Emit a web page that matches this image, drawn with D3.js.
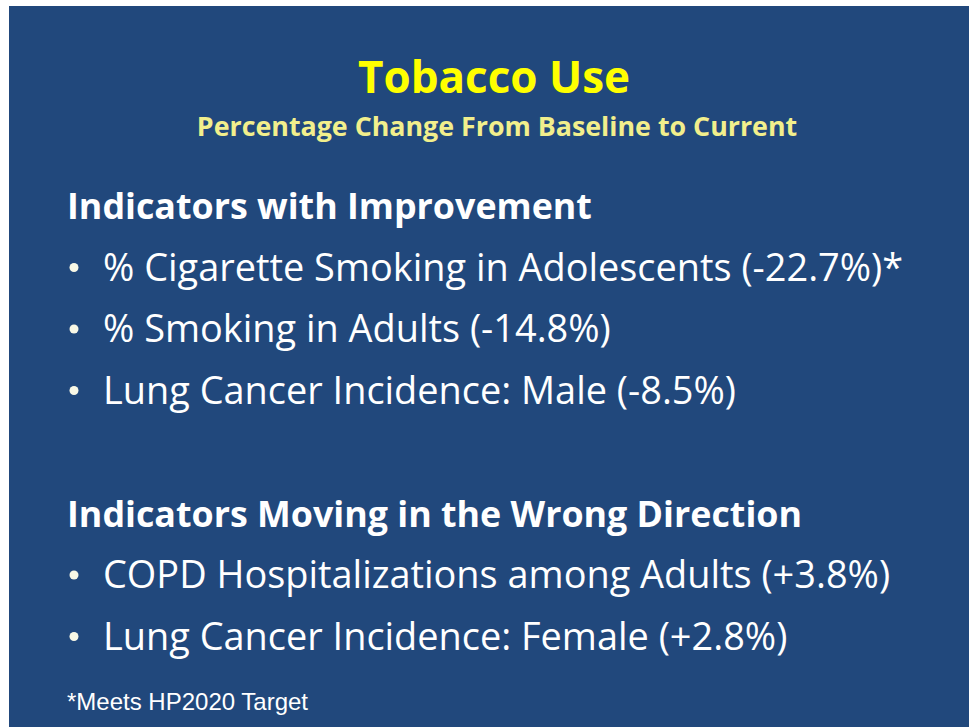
<!DOCTYPE html>
<html>
<head>
<meta charset="utf-8">
<script src="https://cdn.jsdelivr.net/npm/d3@7"></script>
<style>
  html, body { margin: 0; padding: 0; background: #fff; }
  svg { display: block; }
</style>
</head>
<body>
<svg id="slide" width="969" height="727"></svg>
<script>
// slide text / values
var title = "Tobacco Use";
var subtitle = "Percentage Change From Baseline to Current";
var sectionTitles = ["Indicators with Improvement", "Indicators Moving in the Wrong Direction"];
var improvedLabels = ["% Cigarette Smoking in Adolescents", "% Smoking in Adults", "Lung Cancer Incidence: Male"];
var improvedChange = [-22.7, -14.8, -8.5];
var improvedMeetsTarget = [true, false, false];
var worseLabels = ["COPD Hospitalizations among Adults", "Lung Cancer Incidence: Female"];
var worseChange = [3.8, 2.8];
var footnote = "*Meets HP2020 Target";

var svg = d3.select("#slide"),
    width = +svg.attr("width"),
    height = +svg.attr("height");

// plain hyphen for negatives, like the slide
var fmt = d3.formatLocale({decimal: ".", thousands: ",", grouping: [3], currency: ["", ""], minus: "-"}).format("+.1f");
var font = "'Open Sans', sans-serif";

// build rows: heading, items, gap, heading, items
var rows = [];
rows.push({type: "head", text: sectionTitles[0]});
improvedLabels.forEach(function(l, i) {
  rows.push({type: "item", text: l + " (" + fmt(improvedChange[i]) + "%)" + (improvedMeetsTarget[i] ? "*" : "")});
});
rows.push({type: "gap", text: ""});
rows.push({type: "head", text: sectionTitles[1]});
worseLabels.forEach(function(l, i) {
  rows.push({type: "item", text: l + " (" + fmt(worseChange[i]) + "%)"});
});

var y = d3.scalePoint()
    .domain(d3.range(rows.length))
    .range([219, 649.5]);

// background panel
svg.append("rect")
    .attr("x", 9)
    .attr("y", 6)
    .attr("width", width - 9)
    .attr("height", height - 6)
    .attr("fill", "#21487c");

svg.append("text")
    .attr("x", 494)
    .attr("y", 93)
    .attr("text-anchor", "middle")
    .attr("font-family", font)
    .attr("font-weight", "bold")
    .attr("font-size", 44)
    .attr("fill", "#ffff00")
    .text(title);

svg.append("text")
    .attr("x", 497)
    .attr("y", 136)
    .attr("text-anchor", "middle")
    .attr("font-family", font)
    .attr("font-weight", "bold")
    .attr("font-size", 26.8)
    .attr("fill", "#f2ef8c")
    .text(subtitle);

var row = svg.append("g")
    .attr("class", "rows")
  .selectAll("g")
  .data(rows.filter(function(d) { return d.type != "gap"; }))
  .enter().append("g")
    .attr("transform", function(d) { return "translate(0," + y(rows.indexOf(d)) + ")"; });

row.filter(function(d) { return d.type == "head"; })
  .append("text")
    .attr("x", 67)
    .attr("font-family", font)
    .attr("font-weight", "bold")
    .attr("font-size", 35.8)
    .attr("fill", "#ffffff")
    .text(function(d) { return d.text; });

var items = row.filter(function(d) { return d.type == "item"; });
items.append("circle")
    .attr("cx", 74)
    .attr("cy", -13)
    .attr("r", 4.5)
    .attr("fill", "#f8f8e6");
items.append("text")
    .attr("x", 103)
    .attr("font-family", font)
    .attr("font-size", 37.9)
    .attr("fill", "#ffffff")
    .text(function(d) { return d.text; });

svg.append("text")
    .attr("x", 67)
    .attr("y", 710)
    .attr("font-family", "'Liberation Sans', Arial, sans-serif")
    .attr("font-size", 24)
    .attr("fill", "#ffffff")
    .text(footnote);
</script>
</body>
</html>
